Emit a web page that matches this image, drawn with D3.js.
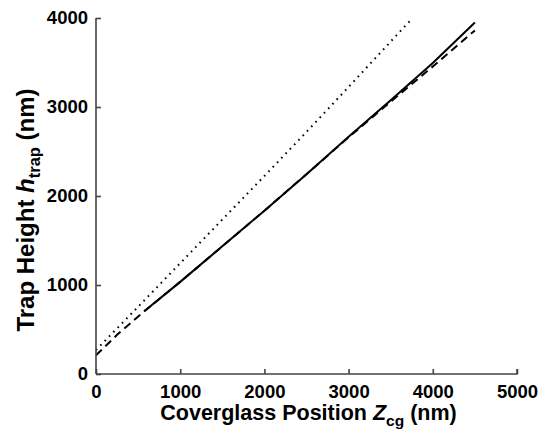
<!DOCTYPE html>
<html><head><meta charset="utf-8">
<script src="https://cdn.jsdelivr.net/npm/d3@7"></script>
<style>body{margin:0;background:#fff}svg{display:block}text{font-family:"Liberation Sans",Arial,sans-serif;font-weight:bold;fill:#000}</style>
</head><body><svg id="c" width="539" height="435"></svg>
<script>
const xTicks = [0, 1000, 2000, 3000, 4000, 5000];
const yTicks = [0, 1000, 2000, 3000, 4000];
// solid line
const solidX = [580, 1000, 1500, 2000, 2500, 3000, 3500, 4000, 4500];
const solidY = [710, 1035, 1435, 1835, 2245, 2665, 3075, 3495, 3950];
// dashed line
const dashX = [0, 250, 580, 1000, 1500, 2000, 2500, 3000, 3300, 3500, 4000, 4500];
const dashY = [210, 440, 710, 1035, 1435, 1835, 2245, 2660, 2900, 3060, 3455, 3860];
// dotted line
const dotX = [0, 500, 1000, 1500, 2000, 2500, 3000, 3500, 3730];
const dotY = [270, 755, 1245, 1735, 2225, 2720, 3225, 3735, 3970];

const svg = d3.select("#c");
const m = {l: 96, r: 22, t: 18, b: 61};
const W = 539, H = 435;
const x = d3.scaleLinear().domain([0, 5000]).range([m.l, W - m.r]);
const y = d3.scaleLinear().domain([0, 4000]).range([H - m.b, m.t]);

const line = d3.line().x(d => x(d[0])).y(d => y(d[1]));
const zip = (a, b) => a.map((v, i) => [v, b[i]]);

svg.append("path").datum(zip(dotX, dotY)).attr("d", line)
  .attr("fill", "none").attr("stroke", "#000").attr("stroke-width", 2)
  .attr("stroke-dasharray", "1.6,4.6");
svg.append("path").datum(zip(dashX, dashY)).attr("d", line)
  .attr("fill", "none").attr("stroke", "#000").attr("stroke-width", 2)
  .attr("stroke-dasharray", "8,5");
svg.append("path").datum(zip(solidX, solidY)).attr("d", line)
  .attr("fill", "none").attr("stroke", "#000").attr("stroke-width", 2);

// axes
const xa = d3.axisBottom(x).tickValues(xTicks).tickSize(-5).tickPadding(10).tickFormat(d3.format("d"));
const ya = d3.axisLeft(y).tickValues(yTicks).tickSize(-5).tickPadding(8).tickFormat(d3.format("d"));
const gx = svg.append("g").attr("transform", `translate(0,${H - m.b})`).call(xa);
const gy = svg.append("g").attr("transform", `translate(${m.l},0)`).call(ya);
[gx, gy].forEach(g => {
  g.selectAll(".tick line").attr("stroke", "#444").attr("stroke-width", 1.6);
  g.selectAll(".tick text").attr("font-size", 18.5).attr("font-family", '"Liberation Sans",Arial,sans-serif').attr("font-weight", "bold").attr("fill", "#000");
});
gx.select(".domain").attr("stroke", "#444").attr("stroke-width", 1.6).attr("d", `M${m.l},0H${W - m.r}V-5`);
gy.select(".domain").attr("stroke", "#444").attr("stroke-width", 1.6).attr("d", `M0,${m.t}V${H - m.b}`);
gx.selectAll(".tick text").attr("dy", "0.74em");

// titles
const xt = svg.append("text").attr("x", (m.l + W - m.r) / 2 + 2).attr("y", 420)
  .attr("text-anchor", "middle").attr("font-size", 21.5);
xt.append("tspan").text("Coverglass Position ");
xt.append("tspan").attr("font-style", "italic").text("Z");
xt.append("tspan").attr("font-size", 15.5).attr("dy", 6).text("cg");
xt.append("tspan").attr("dy", -6).text(" (nm)");

const yt = svg.append("text").attr("transform", `translate(34,${(m.t + H - m.b) / 2 + 14}) rotate(-90)`)
  .attr("text-anchor", "middle").attr("font-size", 24);
yt.append("tspan").text("Trap Height ");
yt.append("tspan").attr("font-style", "italic").text("h");
yt.append("tspan").attr("font-size", 16.5).attr("dy", 6).text("trap");
yt.append("tspan").attr("dy", -6).text(" (nm)");
</script></body></html>
